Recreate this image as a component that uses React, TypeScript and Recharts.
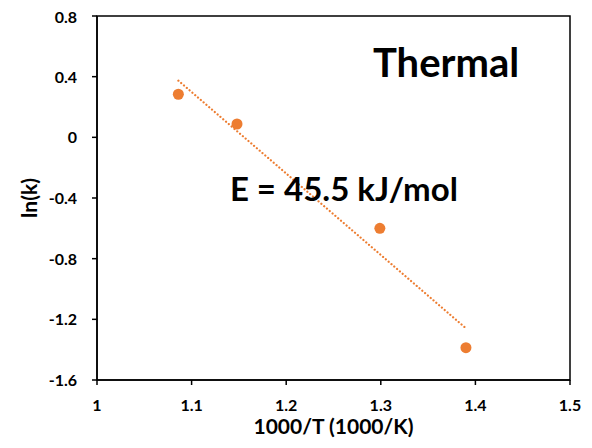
import { ScatterChart, Scatter, XAxis, YAxis, ReferenceArea, ReferenceDot } from 'recharts';

const invT = [1.086, 1.148, 1.299, 1.39];
const lnK = [0.284, 0.088, -0.6, -1.387];
const fitX = [1.086, 1.39];
const fitY = [0.374, -1.259];
const xTicks = [1, 1.1, 1.2, 1.3, 1.4, 1.5];
const yTicks = [-1.6, -1.2, -0.8, -0.4, 0, 0.4, 0.8];

const points = invT.map((x, i) => ({ x, y: lnK[i] }));
const fit = fitX.map((x, i) => ({ x, y: fitY[i] }));

const orange = '#ED7D31';
const font = 'Lato, "Open Sans", sans-serif';
const titleStyle = { fontFamily: font, fontSize: 21, fontWeight: 700, fill: '#000' };
const tickText = { fontFamily: font, fontSize: 16, fontWeight: 700, fill: '#000' };

const XTick = (p: any) => (
    <text x={p.x} y={p.y + 13} textAnchor="middle" style={tickText}>
        {p.payload.value}
    </text>
);
const YTick = (p: any) => (
    <text x={p.x - 2} y={p.y + 6} textAnchor="end" style={tickText}>
        {p.payload.value}
    </text>
);

const App = () => {
    return (
        <div style={{ width: 576, height: 440, marginBottom: -8 }}>
            <ScatterChart width={576} height={440} margin={{ top: 8, right: 14, bottom: 0, left: 29 }}>
                <XAxis
                    type="number"
                    dataKey="x"
                    domain={[1, 1.5]}
                    ticks={xTicks}
                    height={68}
                    tick={<XTick />}
                    tickSize={5}
                    tickMargin={13}
                    stroke="#000"
                    strokeWidth={1.5}
                    label={{ value: '1000/T (1000/K)', position: 'insideBottom', offset: 14, style: titleStyle }}
                />
                <YAxis
                    type="number"
                    dataKey="y"
                    domain={[-1.6, 0.8]}
                    ticks={yTicks}
                    width={60}
                    tick={<YTick />}
                    tickSize={5}
                    tickMargin={13}
                    stroke="#000"
                    strokeWidth={1.5}
                    label={{ value: 'ln(k)', angle: -90, position: 'insideLeft', offset: -7, style: { ...titleStyle, textAnchor: 'middle' } }}
                />
                <ReferenceArea x1={1} x2={1.5} y1={-1.6} y2={0.8} fill="none" stroke="#000" strokeWidth={1.5} />
                <Scatter
                    data={fit}
                    line={{ stroke: orange, strokeWidth: 2.2, strokeDasharray: '0.1 3.6', strokeLinecap: 'round' }}
                    lineType="joint"
                    shape={() => null}
                    isAnimationActive={false}
                />
                <Scatter data={points} isAnimationActive={false}
                    shape={(p: any) => <circle cx={p.cx} cy={p.cy} r={5.5} fill={orange} />} />
                <ReferenceDot x={1.369} y={0.49} r={0} stroke="none"
                    label={{ value: 'Thermal', position: 'center', style: { fontFamily: font, fontSize: 40, fontWeight: 700, fill: '#000' } }} />
                <ReferenceDot x={1.261} y={-0.34} r={0} stroke="none"
                    label={{ value: 'E = 45.5 kJ/mol', position: 'center', style: { fontFamily: font, fontSize: 33, fontWeight: 700, fill: '#000' } }} />
            </ScatterChart>
        </div>
    );
};

export default App;
